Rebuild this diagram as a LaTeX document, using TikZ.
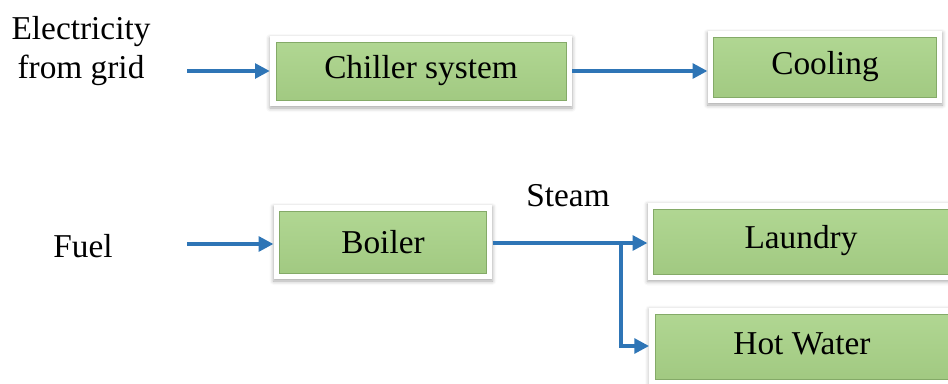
\documentclass[tikz,border=0pt]{standalone}
\usepackage{fontspec}
\setmainfont{Liberation Serif}
\usepackage{tikz}
\usetikzlibrary{arrows.meta,positioning,calc,shadows.blur}
\definecolor{flowblue}{RGB}{46,117,182}
\definecolor{boxgreenlight}{RGB}{178,216,148}
\definecolor{boxgreendark}{RGB}{160,200,128}
\definecolor{boxedge}{RGB}{132,170,104}
\tikzset{
  % Base styles
  diagram base/.style={
    x=0.75pt, y=-0.75pt,
    every node/.style={font=\fontsize{25}{29}\selectfont},
  },
  % Process boxes: white frame with a green panel inside
  green box/.style={rectangle, fill=white, inner sep=0pt,
    blur shadow={shadow xshift=0pt, shadow yshift=-1.5pt, shadow blur radius=3pt, shadow opacity=35},
    path picture={
      \shade[top color=boxgreenlight, bottom color=boxgreendark, draw=boxedge, line width=0.6pt]
        ([shift={(4.5pt,4pt)}]path picture bounding box.south west) rectangle
        ([shift={(-4.5pt,-5pt)}]path picture bounding box.north east);
    }},
  % Plain text labels
  side label/.style={align=center, inner sep=0pt},
  % Connectors
  flow/.style={draw=flowblue, line width=2.6pt, -{Triangle[length=11pt,width=11pt]}},
}

\begin{document}
\begin{tikzpicture}[diagram base]
\useasboundingbox (0,0) rectangle (948,383);
\clip (0,0) rectangle (948,383);

% Top row
\node[green box, minimum width=226.5pt, minimum height=52.5pt] (chiller) at (421,71) {Chiller system};
\node[green box, minimum width=176pt, minimum height=54pt] (cooling) at (825,67) {\raisebox{-2pt}{Cooling}};
\node[side label] (grid) at (81,51) {Electricity\\from grid};

% Bottom row
\node[green box, minimum width=164pt, minimum height=55.5pt] (boiler) at (383,242) {Boiler};
\node[green box, minimum width=230pt, minimum height=57.75pt] (laundry) at (801,241) {Laundry};
\node[green box, minimum width=229pt, minimum height=57.75pt] (hotwater) at (802,346) {\raisebox{3pt}{Hot Water}};
\node[side label] (fuel) at (83,246) {Fuel};
\node[side label] (steam) at (568,196) {Steam};

% Free ends of the connectors
\coordinate (gridin) at (187,71);
\coordinate (fuelin) at (187,244);
\coordinate (split) at (621,243);

% Edges
\draw[flow] (gridin) -- (gridin -| chiller.west);
\draw[flow] (chiller.east) -- (chiller.east -| cooling.west);
\draw[flow] (fuelin) -- (fuelin -| boiler.west);
\draw[flow] (boiler.east |- split) -- (split -| laundry.west);
\draw[flow] (split) |- (hotwater.west);
\end{tikzpicture}
\end{document}
